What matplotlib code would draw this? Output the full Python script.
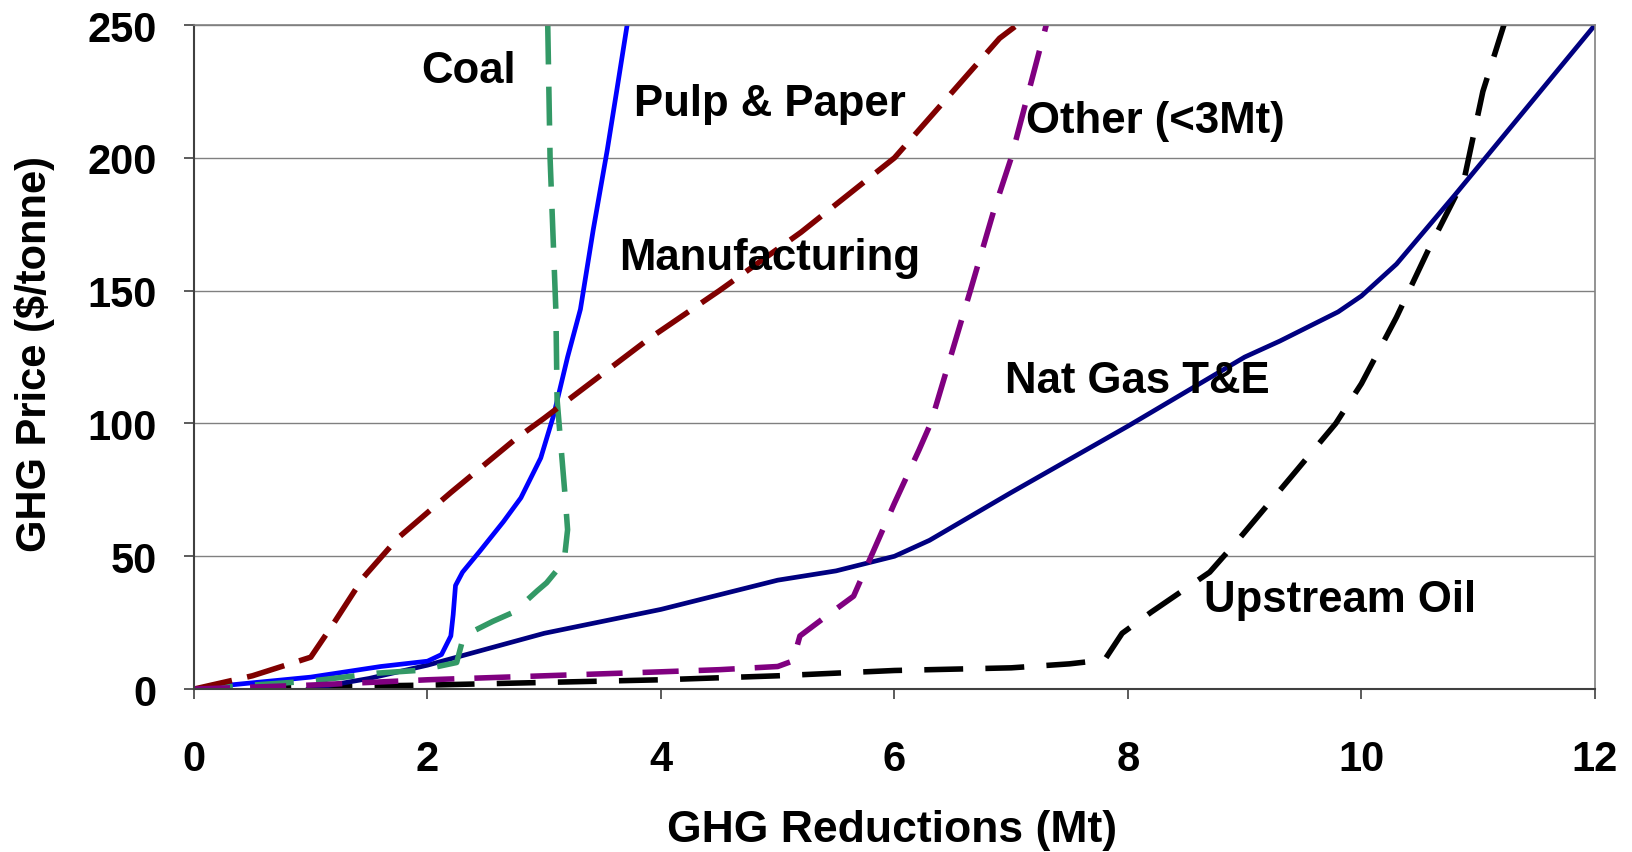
import numpy as np
import matplotlib.pyplot as plt

# marginal abatement curves
MANUF_X = [0, 0.5, 1.0, 1.2, 1.45, 1.75, 2.2, 2.75, 3.0, 3.9, 4.5, 5.2, 5.8, 6.0, 6.5, 6.9, 7.05]
MANUF_Y = [0, 5, 12, 25, 42, 57, 74, 94, 102, 132, 150, 172, 193, 200, 225, 245, 250]

PULP_X = [0, 0.3, 1.0, 1.6, 2.0, 2.12, 2.2, 2.22, 2.24, 2.3, 2.45, 2.65, 2.8, 2.97, 3.08,
          3.2, 3.31, 3.42, 3.54, 3.62, 3.71]
PULP_Y = [0, 1.5, 4.5, 8.5, 10.5, 13, 20, 28, 39, 44, 52, 63, 72, 87, 103,
          125, 143, 173, 203, 225, 250]

COAL_X = [0, 0.5, 1.0, 1.57, 1.91, 2.1, 2.25, 2.31, 2.56, 2.74, 2.94, 3.02, 3.17, 3.2, 3.18,
          3.11, 3.1, 3.05, 3.03]
COAL_Y = [0, 1.5, 3, 6, 7, 8.6, 10, 20, 25.5, 29, 37, 40, 48, 60, 72,
          109, 142, 200, 250]

NATGAS_X = [0.98, 1.5, 2.0, 2.25, 3.0, 4.0, 5.0, 5.5, 6.0, 6.3, 7.0, 8.0, 9.0, 9.3, 9.8,
            10.0, 10.3, 10.8, 12.0]
NATGAS_Y = [0, 4, 9, 12, 21, 30, 41, 44.5, 50, 56, 74, 99, 125, 131, 142,
            148, 160, 186, 250]

OTHER_X = [0, 1.0, 2.0, 3.0, 4.0, 4.5, 5.0, 5.13, 5.19, 5.39, 5.65, 5.79, 6.0, 6.21, 6.31,
           6.65, 6.85, 7.0, 7.3]
OTHER_Y = [0, 1.5, 3.5, 5, 6.5, 7.3, 8.5, 10.6, 20, 26.6, 35, 49, 70, 90, 100,
           150, 180, 200, 250]

OIL_X = [0.5, 1.0, 2.0, 3.0, 4.0, 5.0, 6.0, 7.0, 7.5, 7.8, 7.95, 8.2, 8.7, 8.96, 9.4,
         9.78, 10.0, 10.3, 10.58, 10.88, 11.04, 11.22]
OIL_Y = [0, 0.8, 1.5, 2.5, 3.5, 5, 7, 8, 9.5, 11, 21, 29, 44, 57, 80,
         100, 115, 140, 166, 192, 225, 250]

X_TICKS = [0, 2, 4, 6, 8, 10, 12]
Y_TICKS = [0, 50, 100, 150, 200, 250]

plt.rcParams['font.family'] = ['Liberation Sans', 'DejaVu Sans']
plt.rcParams['font.weight'] = 'bold'

fig = plt.figure(figsize=(16.33, 8.53), dpi=100)
ax = fig.add_axes([0.1188, 0.191, 0.8579, 0.7785])

# draw order: bottom ones first
ax.plot(OIL_X, OIL_Y, color='black', lw=4.0, dashes=(7.0, 4.0))
ax.plot(NATGAS_X, NATGAS_Y, color='#000080', lw=3.4)
ax.plot(PULP_X, PULP_Y, color='#0000FF', lw=3.4)
ax.plot(COAL_X, COAL_Y, color='#339966', lw=4.0, dashes=(7.0, 4.0))
ax.plot(MANUF_X, MANUF_Y, color='#800000', lw=4.0, dashes=(7.0, 2.8))
ax.plot(OTHER_X, OTHER_Y, color='#800080', lw=4.0, dashes=(6.5, 3.6))

lbl = dict(fontsize=31.5, fontweight='bold', va='center', ha='left')
ax.text(1.95, 233, "Coal", **lbl)
ax.text(3.77, 220.6, "Pulp & Paper", **lbl)
ax.text(3.64, 162.6, "Manufacturing", **lbl)
ax.text(7.13, 214, "Other (<3Mt)", **lbl)
ax.text(6.95, 116, "Nat Gas T&E", **lbl)
ax.text(8.65, 33.7, "Upstream Oil", **lbl)

ax.set_xlim(0, 12)
ax.set_ylim(0, 250)
ax.set_xticks(X_TICKS)
ax.set_yticks(Y_TICKS)
ax.tick_params(axis='x', direction='out', length=7, width=1.2, pad=29,
               labelsize=30, colors='#404040', labelcolor='black')
ax.tick_params(axis='y', direction='out', length=7, width=1.2, pad=20,
               labelsize=30, colors='#404040', labelcolor='black')
for t in ax.get_xticklabels() + ax.get_yticklabels():
    t.set_fontweight('bold')

ax.yaxis.grid(True, color='#808080', lw=1.0)
ax.set_axisbelow(True)
for side in ('left', 'bottom'):
    ax.spines[side].set_color('#404040')
    ax.spines[side].set_linewidth(1.5)
for side in ('top', 'right'):
    ax.spines[side].set_color('#808080')
    ax.spines[side].set_linewidth(1.2)

ax.set_xlabel("GHG Reductions (Mt)", fontsize=32, fontweight='bold', va='center')
ax.set_ylabel("GHG Price ($/tonne)", fontsize=30, fontweight='bold', va='center')
ax.xaxis.set_label_coords(0.498, -0.211)
ax.yaxis.set_label_coords(-0.114, 0.506)

fig.savefig("out.png", dpi=100)
